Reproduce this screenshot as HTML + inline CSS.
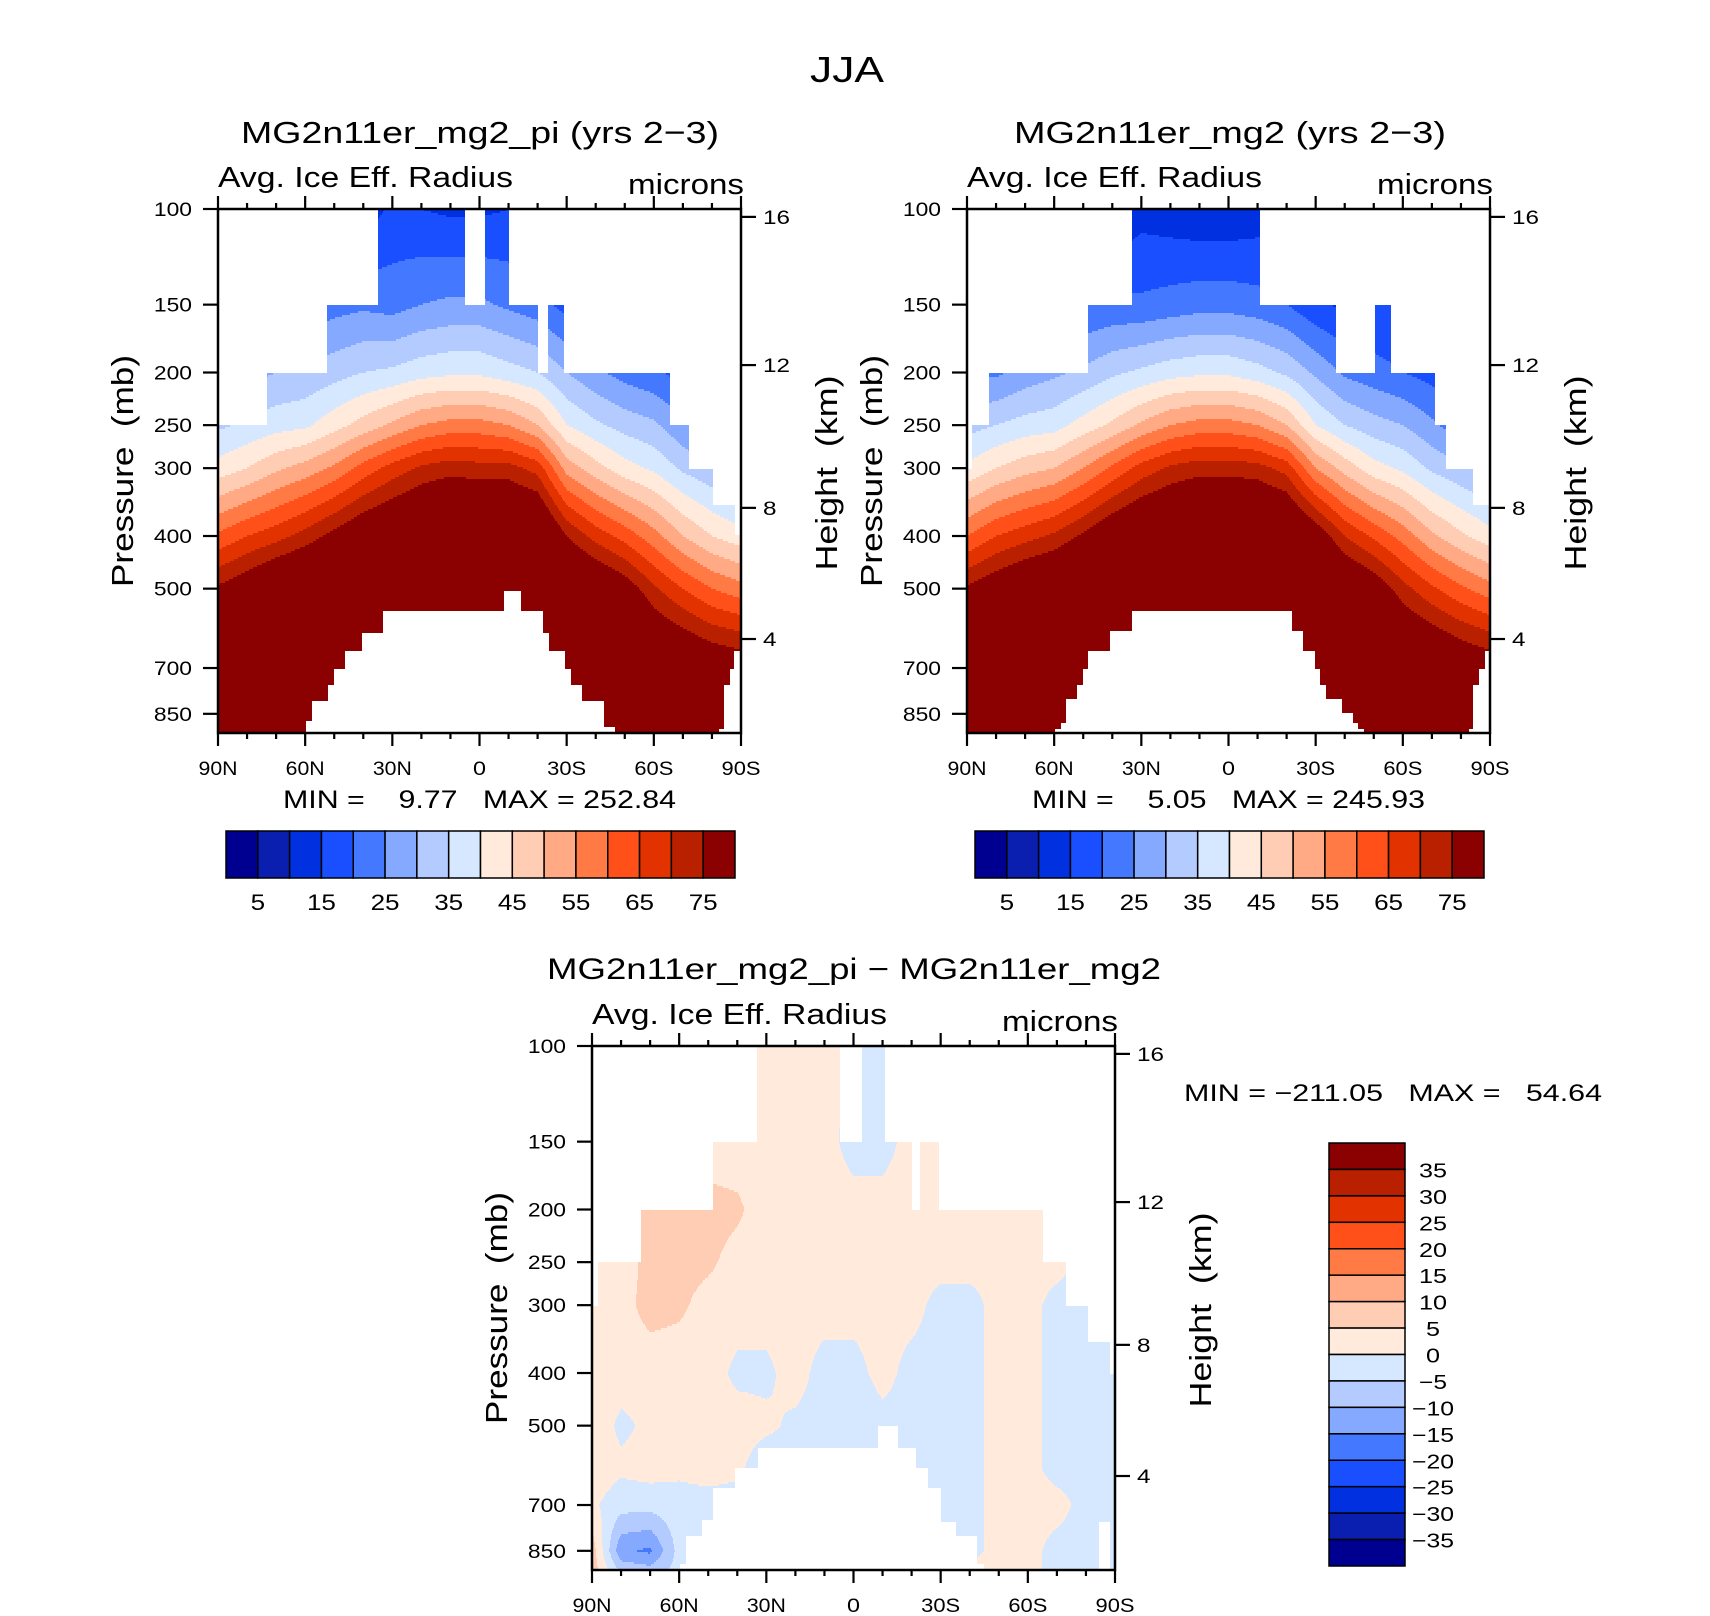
<!DOCTYPE html>
<html><head><meta charset="utf-8">
<style>
html,body{margin:0;padding:0;background:#fff;}
svg{display:block;font-family:"Liberation Sans",sans-serif;}
text{white-space:pre;}
</style></head>
<body>
<svg id="fig" width="1710" height="1616" viewBox="0 0 1710 1616" xmlns="http://www.w3.org/2000/svg">
<rect x="0" y="0" width="1710" height="1616" fill="#fff"/>
<text x="847" y="82" font-size="36" text-anchor="middle" textLength="74" lengthAdjust="spacingAndGlyphs">JJA</text>
</svg>
<script>
// ---------- data ----------
const lats = [90,80,70,60,50,40,30,20,10,0,-10,-20,-30,-40,-50,-60,-70,-80,-90];
const plevs = [100,150,200,250,300,400,500,600,700,850,925];
const meanLevels = [5,10,15,20,25,30,35,40,45,50,55,60,65,70,75];
const meanTickLabels = ["5","15","25","35","45","55","65","75"];
const diffLevels = [-35,-30,-25,-20,-15,-10,-5,0,5,10,15,20,25,30,35];
const diffTickLabels = ["35","30","25","20","15","10","5","0","\u22125","\u221210","\u221215","\u221220","\u221225","\u221230","\u221235"];
const colors = ["#000090","#0a1eb0","#0030e0","#1a4fff","#4479ff","#85a9ff","#b3cbff","#d6e8ff","#ffeadb","#ffcdb4","#ffaa85","#ff7a45","#ff5019","#e23200","#b82000","#8b0000"];

const piValues = [
[0,16,26,34,42,61,76,90,90,90,90],
[3,18,28,36,45,65,80,90,90,90,90],
[5,20,30,38,49,68,85,90,90,90,90],
[7,21,31,39,52,72,88,90,90,90,90],
[9,23,33,43,56,77,90,90,90,90,90],
[12,24,35,47,62,82,90,90,90,90,90],
[16,23,36,51,67,85,90,90,90,90,90],
[15,25,38,55,71,88,90,90,90,90,90],
[14,26,39,57,73,90,90,90,90,90,90],
[14,26,39,57,72,90,90,90,90,90,90],
[15,24,37,55,72,90,90,90,90,90,90],
[15,22,35,50,68,88,90,90,90,90,90],
[15,18,30,40,53,75,88,90,90,90,90],
[14,16,26,36,47,68,84,90,90,90,90],
[12,16,23,33,42,63,79,90,90,90,90],
[10,16,21,31,39,57,71,80,90,90,90],
[8,14,18,26,34,50,65,76,85,90,90],
[6,12,16,22,31,45,60,72,82,90,90],
[5,10,15,20,28,42,57,70,80,90,90]];

const mg2Values = [
[0,14,24,33,41,60,76,90,90,90,90],
[2,16,24,35,45,65,80,90,90,90,90],
[4,18,27,37,48,68,84,90,90,90,90],
[6,19,29,38,50,71,86,90,90,90,90],
[8,20,31,42,55,76,90,90,90,90,90],
[10,21,34,46,61,82,90,90,90,90,90],
[13,21,36,51,67,86,90,90,90,90,90],
[12,22,38,55,71,88,90,90,90,90,90],
[11,23,39,57,73,90,90,90,90,90,90],
[11,23,39,57,73,90,90,90,90,90,90],
[12,22,37,55,72,90,90,90,90,90,90],
[13,20,34,50,68,88,90,90,90,90,90],
[14,16,29,40,55,80,90,90,90,90,90],
[13,14,24,35,48,70,85,90,90,90,90],
[12,15,22,32,42,64,80,90,90,90,90],
[10,15,20,30,39,58,72,81,90,90,90],
[8,14,18,26,34,51,66,77,86,90,90],
[6,12,16,22,31,46,61,73,82,90,90],
[5,10,15,20,28,42,57,70,80,90,90]];

const diffValues = [
[2,2,2,2,3,4,3,3,1,8,8],
[2,2,2,2,3,2,-1,1,-3,-14,-6],
[2,2,7,7,7,2,1,2,-3,-16,-8],
[2,2,7,7,6,2,2,1,-2,-3,-3],
[2,2,7,6,3,2,2,2,-2,-2,-2],
[2,2,6,3,2,-1,2,1,-2,-2,-2],
[2,2,2,2,2,-1,1,-3,-2,-2,-2],
[2,2,2,2,2,2,-1,-2,-2,-2,-2],
[2,2,2,2,2,-2,-2,-5,-2,-2,-2],
[-1,-2,2,2,2,-2,-4,-5,-2,-2,-2],
[-2,-2,2,2,2,2,-2,-3,-2,-2,-2],
[2,2,2,2,2,-2,-2,-2,-2,-2,-2],
[2,2,2,2,-2,-2,-2,-2,-2,-2,-2],
[2,2,2,2,-2,-2,-2,-2,-2,-2,2],
[2,2,2,2,2,2,2,2,2,2,2],
[2,2,2,2,2,2,2,2,2,2,2],
[2,2,2,2,-2,-2,-2,-2,2,-2,-2],
[-2,-2,-2,-2,-2,-2,-2,-2,-2,-2,-2],
[-2,-2,-2,-2,-2,-2,-2,-2,-2,-2,-2]];

// data-coverage masks: [latNorth, latSouth, pressure]
const piTop = [[90,73,250],[73,52.4,200],[52.4,35,150],[35,5,100],[5,-2,150],[-2,-10,100],[-10,-20,150],[-20,-23.5,200],[-23.5,-29,150],[-29,-65.5,200],[-65.5,-72,250],[-72,-80.5,300],[-80.5,-88,352],[-88,-90,398]];
const piBottom = [[59.7,57.7,874],[57.7,52,802],[52,50,753],[50,46.2,703],[46.2,40.5,652],[40.5,33.1,601],[33.1,-8.5,552],[-8.5,-14.2,503],[-14.2,-21.8,552],[-21.8,-23.8,601],[-23.8,-29.5,652],[-29.5,-31.5,703],[-31.5,-35.4,753],[-35.4,-42.8,802],[-42.8,-46.5,900],[-82.3,-84.3,906],[-84.3,-86.2,750],[-86.2,-87.7,703],[-87.7,-90,652]];
const mg2Top = [[90,88.2,300],[88.2,82.3,250],[82.3,48.4,200],[48.4,33.2,150],[33.2,-10.7,100],[-10.7,-37,150],[-37,-50.4,200],[-50.4,-56,150],[-56,-71.2,200],[-71.2,-75,250],[-75,-84.3,300],[-84.3,-90,350]];
const mg2Bottom = [[59.7,57.7,906],[57.7,55.8,880],[55.8,52,795],[52,50.1,750],[50.1,48.4,700],[48.4,40.7,650],[40.7,33.2,598],[33.2,-21.9,550],[-21.9,-25.8,598],[-25.8,-29.6,650],[-29.6,-31.5,700],[-31.5,-33.5,750],[-33.5,-39,795],[-39,-42.7,850],[-42.7,-44.7,880],[-44.7,-46.6,906],[-82.8,-84.3,906],[-84.3,-86.3,750],[-86.3,-88.2,700],[-88.2,-90,650]];
const diffTop = [[90,87.9,300],[87.9,73.3,250],[73.3,48.3,200],[48.3,33.1,150],[33.1,4.6,100],[4.6,-3,150],[-3,-10.7,100],[-10.7,-20,150],[-20,-23,200],[-23,-29.5,150],[-29.5,-65.3,200],[-65.3,-73.2,250],[-73.2,-80.8,300],[-80.8,-88.2,350],[-88.2,-90,400]];
const diffBottom = [[59.7,57.6,900],[57.6,52.1,800],[52.1,48.3,745],[48.3,40.7,652],[40.7,32.8,600],[32.8,-8.6,549],[-8.6,-15.3,500],[-15.3,-21.6,549],[-21.6,-25.8,600],[-25.8,-30.1,652],[-30.1,-35.4,752],[-35.4,-42.4,800],[-42.4,-45,900],[-84.6,-88.2,752]];

const pressureTicks = [100,150,200,250,300,400,500,700,850];
const latTicksMajor = [90,60,30,0,-30,-60,-90];
const latTickLabels = ["90N","60N","30N","0","30S","60S","90S"];
const latTicksMinor = [80,70,50,40,20,10,-10,-20,-40,-50,-70,-80];
const heightTicks = ["16","12","8","4"];
const heightTickPressure = [103.4,193.8,355,619];

// ---------- layout ----------
const NS = "http://www.w3.org/2000/svg";
const svg = document.getElementById("fig");
const PW = 523, PH = 524, PBOT = 922;
const K = PH/Math.log(PBOT/100);

function el(tag, attrs, parent, txt){
  const e = document.createElementNS(NS, tag);
  for (const k in attrs) e.setAttribute(k, attrs[k]);
  if (txt !== undefined) e.textContent = txt;
  (parent||svg).appendChild(e);
  return e;
}
function segVal(segs, lat, def){
  for (const s of segs){ if (lat <= s[0] && lat >= s[1]) return s[2]; }
  return def;
}
function interp(vals, lat, p){
  let t = (90-lat)/10; let i = Math.floor(t); if (i>17) i=17; if (i<0) i=0; const fx = t-i;
  const lp = Math.log(p); let j = 0;
  while (j < plevs.length-2 && p > plevs[j+1]) j++;
  let fy = (lp-Math.log(plevs[j]))/(Math.log(plevs[j+1])-Math.log(plevs[j]));
  fy = Math.max(0, Math.min(1, fy));
  const a = vals[i][j], b = vals[i][j+1], c = vals[i+1][j], d = vals[i+1][j+1];
  return (a*(1-fy)+b*fy)*(1-fx) + (c*(1-fy)+d*fy)*fx;
}
function colorFor(v, levels){
  let k = 0; for (const l of levels){ if (v >= l) k++; }
  return colors[k];
}

function drawPanel(x0, y0, vals, levels, topSegs, botSegs, name){
  const xOf = lat => x0 + (90-lat)/180*PW;
  const yOf = p => y0 + Math.log(p/100)*K;
  const g = el("g", {"shape-rendering":"crispEdges"});
  
  
  for (let r = 0; r < PH; r += 2){
    const p = 100*Math.exp((r+1)/K);
    let start = 0, cur = null;
    for (let c = 0; c <= PW; c++){
      let col = null;
      if (c < PW){
        const lat = 90 - (c+0.5)/PW*180;
        if (p >= segVal(topSegs, lat, 100) && p <= segVal(botSegs, lat, 1e4)) col = colorFor(interp(vals, lat, p), levels);
      }
      if (col !== cur){
        if (cur){
          const rc = el("rect", {x:x0+start, y:y0+r, width:c-start, height:2.2, fill:cur}, g);
          
          
        }
        start = c; cur = col;
      }
    }
  }
  const fr = el("rect", {x:x0, y:y0, width:PW, height:PH, fill:"none", stroke:"#000", "stroke-width":2.5});
  
  
  const ax = el("g", {stroke:"#000","stroke-width":2.2});
  
  
  pressureTicks.forEach(p => {
    const y = yOf(p);
    el("line", {x1:x0-15, y1:y, x2:x0, y2:y}, ax);
    const t = el("text", {x:x0-26, y:y+7, "font-size":19, "text-anchor":"end", textLength:String(p).length*12.7, lengthAdjust:"spacingAndGlyphs"}, svg, String(p));
    
    
  });
  latTicksMajor.forEach((lat, i) => {
    const x = xOf(lat);
    el("line", {x1:x, y1:y0-13, x2:x, y2:y0}, ax);
    el("line", {x1:x, y1:y0+PH, x2:x, y2:y0+PH+13}, ax);
    const lbl = latTickLabels[i];
    const t = el("text", {x:x, y:y0+PH+42, "font-size":19, "text-anchor":"middle", textLength:lbl.length*13, lengthAdjust:"spacingAndGlyphs"}, svg, lbl);
    
    
  });
  latTicksMinor.forEach(lat => {
    const x = xOf(lat);
    el("line", {x1:x, y1:y0-6, x2:x, y2:y0}, ax);
    el("line", {x1:x, y1:y0+PH, x2:x, y2:y0+PH+6}, ax);
  });
  heightTicks.forEach((h, i) => {
    const y = yOf(heightTickPressure[i]);
    el("line", {x1:x0+PW, y1:y, x2:x0+PW+15, y2:y}, ax);
    const t = el("text", {x:x0+PW+22, y:y+7, "font-size":19, textLength:h.length*13.5, lengthAdjust:"spacingAndGlyphs"}, svg, h);
    
    
  });
  const yl = el("text", {x:0, y:0, "font-size":31, "text-anchor":"middle", transform:`translate(${x0-85},${y0+262}) rotate(-90)`, textLength:232, lengthAdjust:"spacingAndGlyphs"}, svg, "Pressure  (mb)");
  
  
  const hl = el("text", {x:0, y:0, "font-size":31, "text-anchor":"middle", transform:`translate(${x0+PW+96},${y0+264}) rotate(-90)`, textLength:195, lengthAdjust:"spacingAndGlyphs"}, svg, "Height  (km)");
  
  
  const lt = el("text", {x:x0, y:y0-22, "font-size":29, textLength:295, lengthAdjust:"spacingAndGlyphs"}, svg, "Avg. Ice Eff. Radius");
  
  
  const ut = el("text", {x:x0+PW+3, y:y0-15, "font-size":29, "text-anchor":"end", textLength:116, lengthAdjust:"spacingAndGlyphs"}, svg, "microns");
  
  
}

function hColorbar(x0, y0, w, h){
  const g = el("g", {});
  
  
  const bw = w/colors.length;
  colors.forEach((c, i) => {
    const r = el("rect", {x:x0+i*bw, y:y0, width:bw, height:h, fill:c, stroke:"#000", "stroke-width":1.5}, g);
    
    
  });
  meanTickLabels.forEach((l, i) => {
    const t = el("text", {x:x0+(2*i+1)*bw, y:y0+h+32, "font-size":22, "text-anchor":"middle", textLength:l.length*14.5, lengthAdjust:"spacingAndGlyphs"}, g, l);
    
    
  });
}

function vColorbar(x0, y0, w, h){
  const g = el("g", {});
  
  
  const bh = h/colors.length;
  colors.slice().reverse().forEach((c, i) => {
    const r = el("rect", {x:x0, y:y0+i*bh, width:w, height:bh, fill:c, stroke:"#000", "stroke-width":1.5}, g);
    
    
  });
  diffTickLabels.forEach((l, i) => {
    const n = l.replace("\u2212","").length;
    const t = el("text", {x:1433, y:y0+(i+1)*bh+8, "font-size":20, "text-anchor":"middle", textLength:n*14+(l.length>n?14:0), lengthAdjust:"spacingAndGlyphs"}, g, l);
    
    
  });
}

function label(x, y, size, txt, len, anchor, name){
  const t = el("text", {x:x, y:y, "font-size":size, "text-anchor":anchor||"start", textLength:len, lengthAdjust:"spacingAndGlyphs"}, svg, txt);
  
  
  return t;
}

// panel 1
drawPanel(218, 209, piValues, meanLevels, piTop, piBottom, "pi-panel");
label(480, 143, 31, "MG2n11er_mg2_pi (yrs 2\u22123)", 478, "middle", "pi-panel-title");
label(283, 808, 25, "MIN =    9.77   MAX = 252.84", 393, "start", "pi-min-max");
hColorbar(226, 831, 509, 47);

// panel 2
drawPanel(967, 209, mg2Values, meanLevels, mg2Top, mg2Bottom, "mg2-panel");
label(1230, 143, 31, "MG2n11er_mg2 (yrs 2\u22123)", 432, "middle", "mg2-panel-title");
label(1032, 808, 25, "MIN =    5.05   MAX = 245.93", 393, "start", "mg2-min-max");
hColorbar(975, 831, 509, 47);

// panel 3
drawPanel(592, 1046, diffValues, diffLevels, diffTop, diffBottom, "diff-panel");
label(854, 979, 30, "MG2n11er_mg2_pi \u2212 MG2n11er_mg2", 614, "middle", "diff-panel-title");
label(1184, 1101, 24, "MIN = \u2212211.05   MAX =   54.64", 418, "start", "diff-min-max");
vColorbar(1329, 1143, 76, 423);
</script>
</body></html>
